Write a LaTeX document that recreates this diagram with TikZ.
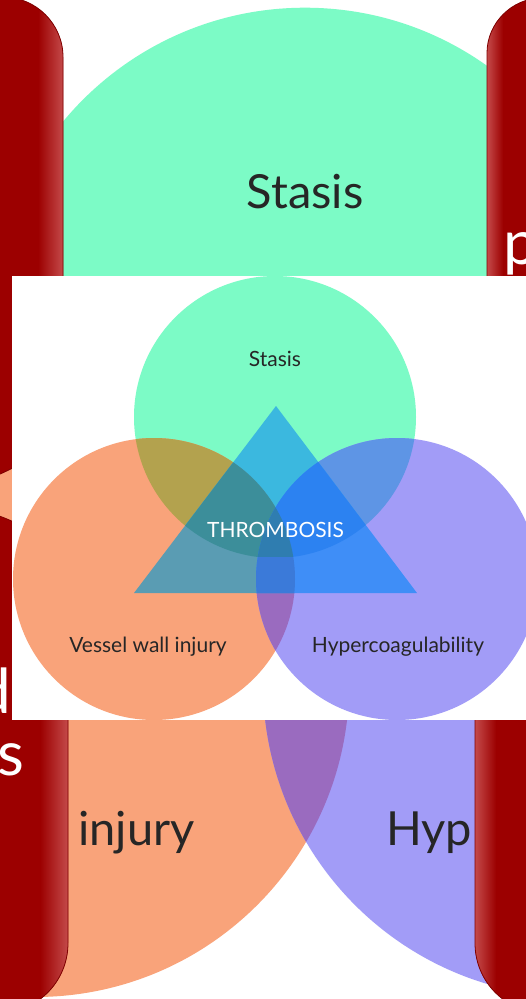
\documentclass[tikz,border=0pt]{standalone}
\usepackage{fontspec}
\setmainfont{Lato}
\definecolor{cG}{HTML}{7CFBC6}
\definecolor{cO}{HTML}{F9A37A}
\definecolor{cB}{HTML}{A29CF7}
\definecolor{cGO}{HTML}{B3A24E}
\definecolor{cGB}{HTML}{5E95E5}
\definecolor{cOB}{HTML}{9A6BBF}
\definecolor{cTG}{HTML}{3BB8DF}
\definecolor{cTO}{HTML}{5A9CB3}
\definecolor{cTB}{HTML}{3F8EF7}
\definecolor{cTGO}{HTML}{3C8E9A}
\definecolor{cTGB}{HTML}{2C82F1}
\definecolor{cTOB}{HTML}{3B7AD9}
\definecolor{cTGOB}{HTML}{2F7DB0}
\definecolor{barred}{HTML}{9C0000}
\definecolor{barlight}{HTML}{C44A4A}
\definecolor{bardark}{HTML}{7E0000}
\definecolor{txt}{HTML}{262626}
\begin{document}
\begin{tikzpicture}[x=1pt,y=-1pt,
  lbl/.style={inner sep=0pt, text=txt, font=\fontsize{21}{24}\selectfont},
  biglbl/.style={inner sep=0pt, text=txt, font=\fontsize{47}{54}\selectfont},
  bartext/.style={inner sep=0pt, text=white, font=\fontsize{62}{70}\selectfont},
  baredge/.style={draw=bardark, line width=0.8pt}]
\useasboundingbox (0,0) rectangle (526,999);
\clip (0,0) rectangle (526,999);
\fill[white] (0,0) rectangle (526,999);

% ---------- magnified background slide ----------
\fill[cO] (35.2,683) circle (314pt);
\fill[cB] (577,683) circle (314pt);
\fill[cG] (305,321.7) circle (314pt);
\begin{scope}
  \clip (35.2,683) circle (314pt);
  \fill[cOB] (577,683) circle (314pt);
\end{scope}
\node[biglbl, anchor=base] (bgStasis) at (305,208) {Stasis};
\node[biglbl, anchor=base east] (bgInjury) at (195,845) {injury};
\node[biglbl, anchor=base west] (bgHyp) at (386,845) {Hyp};

% upper-left bar
\fill[barred] (-100,-3) -- (3,-3) .. controls (36,-3) and (63,24) .. (63,57) -- (63,380) .. controls (63,440) and (35,462) .. (-20,482) -- (-100,482) -- cycle;
\begin{scope}
  \clip (-100,-3) -- (3,-3) .. controls (36,-3) and (63,24) .. (63,57) -- (63,380) .. controls (63,440) and (35,462) .. (-20,482) -- (-100,482) -- cycle;
  \shade[left color=barred, right color=barlight] (38,-10) rectangle (63,500);
\end{scope}
\draw[baredge] (-100,-3) -- (3,-3) .. controls (36,-3) and (63,24) .. (63,57) -- (63,380) .. controls (63,440) and (35,462) .. (-20,482) -- (-100,482) -- cycle;

% upper-right bar
\fill[barred] (626,-2) -- (542,-2) .. controls (512,-2) and (487,23) .. (487,53) -- (487,430) -- (626,430) -- cycle;
\begin{scope}
  \clip (626,-2) -- (542,-2) .. controls (512,-2) and (487,23) .. (487,53) -- (487,430) -- (626,430) -- cycle;
  \shade[left color=barlight, right color=barred] (487,-10) rectangle (503,440);
\end{scope}
\draw[baredge] (626,-2) -- (542,-2) .. controls (512,-2) and (487,23) .. (487,53) -- (487,430) -- (626,430) -- cycle;

% lower-left bar
\fill[barred] (-100,500) .. controls (20,505) and (68,540) .. (68,610) -- (68,943) .. controls (68,982) and (37,1013) .. (-2,1013) -- (-100,1013) -- cycle;
\begin{scope}
  \clip (-100,500) .. controls (20,505) and (68,540) .. (68,610) -- (68,943) .. controls (68,982) and (37,1013) .. (-2,1013) -- (-100,1013) -- cycle;
  \shade[left color=barred, right color=barlight] (40,490) rectangle (68,1020);
\end{scope}
\draw[baredge] (-100,500) .. controls (20,505) and (68,540) .. (68,610) -- (68,943) .. controls (68,982) and (37,1013) .. (-2,1013) -- (-100,1013) -- cycle;

% lower-right bar
\fill[barred] (626,560) -- (545,560) .. controls (506,560) and (475,591) .. (475,630) -- (475,943) .. controls (475,982) and (506,1013) .. (545,1013) -- (626,1013) -- cycle;
\begin{scope}
  \clip (626,560) -- (545,560) .. controls (506,560) and (475,591) .. (475,630) -- (475,943) .. controls (475,982) and (506,1013) .. (545,1013) -- (626,1013) -- cycle;
  \shade[left color=barlight, right color=barred] (475,550) rectangle (496,1020);
\end{scope}
\draw[baredge] (626,560) -- (545,560) .. controls (506,560) and (475,591) .. (475,630) -- (475,943) .. controls (475,982) and (506,1013) .. (545,1013) -- (626,1013) -- cycle;

% white text fragments on the bars
\node[bartext, anchor=base west] (wp) at (503,264) {p};
\node[bartext, anchor=base east] (wd) at (11,713) {d};
\node[bartext, anchor=base east] (wes) at (25,775) {es};

% ---------- inset diagram ----------
\fill[white] (12,276) rectangle (527,720);
\begin{scope}
  \clip (12,276) rectangle (527,720);
  \fill[cG] (275,417) circle (141pt);
  \fill[cO] (154,579) circle (141pt);
  \fill[cB] (397,579) circle (141pt);
  \begin{scope}
    \clip (275,417) circle (141pt);
    \fill[cGO] (154,579) circle (141pt);
    \fill[cGB] (397,579) circle (141pt);
  \end{scope}
  \begin{scope}
    \clip (154,579) circle (141pt);
    \fill[cOB] (397,579) circle (141pt);
  \end{scope}
  % triangle
  \begin{scope}
    \clip (276,406) -- (134,593) -- (417,593) -- cycle;
    \fill[cTG] (275,417) circle (141pt);
    \fill[cTO] (154,579) circle (141pt);
    \fill[cTB] (397,579) circle (141pt);
    \begin{scope}
      \clip (275,417) circle (141pt);
      \fill[cTGO] (154,579) circle (141pt);
      \fill[cTGB] (397,579) circle (141pt);
      \clip (154,579) circle (141pt);
      \fill[cTGOB] (397,579) circle (141pt);
    \end{scope}
    \begin{scope}
      \clip (154,579) circle (141pt);
      \clip (-100,557) rectangle (700,700);
      \fill[cTOB] (397,579) circle (141pt);
    \end{scope}
  \end{scope}
  \node[lbl, anchor=base] (stasis) at (275,366) {Stasis};
  \node[lbl, anchor=base] (vessel) at (148,652) {Vessel wall injury};
  \node[lbl, anchor=base] (hyper) at (398,652) {Hypercoagulability};
  \node[lbl, anchor=base, text=white] (thromb) at (275.5,537) {THROMBOSIS};
\end{scope}
\end{tikzpicture}
\end{document}
